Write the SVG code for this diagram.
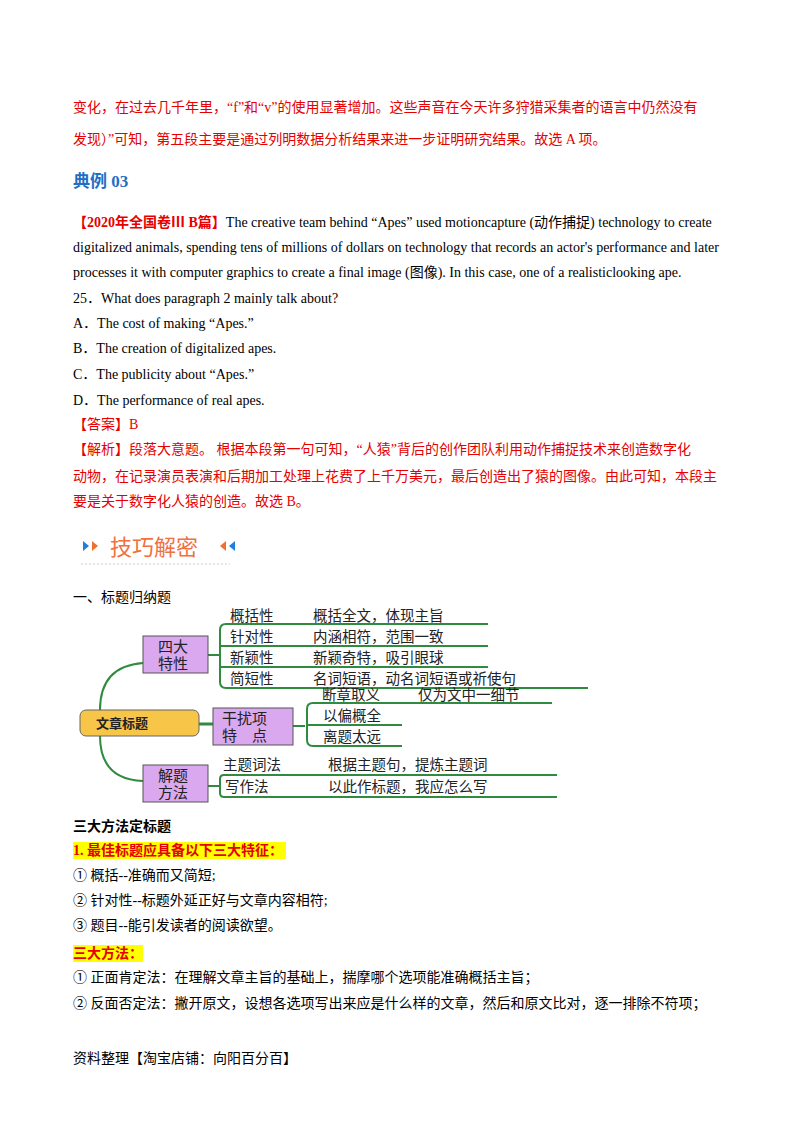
<svg xmlns="http://www.w3.org/2000/svg" width="800" height="1132" viewBox="0 0 800 1132">
<style>
text{font-family:"Liberation Serif","Noto Sans CJK SC",serif;font-size:14px;fill:#000}
.r{fill:#e60000}
.b{font-weight:bold}
.m{font-family:"Noto Sans CJK SC",sans-serif;font-size:14.5px;fill:#222}
.g{stroke:#2e8b40;stroke-width:2;fill:none}
.box{fill:#d9a8ee;stroke:#555;stroke-width:1}
.bx{font-family:"Noto Sans CJK SC",sans-serif;font-size:15px;fill:#222}
</style>
<rect width="800" height="1132" fill="#fff"/>
<text x="73" y="112" class="r">变化，在过去几千年里，“f”和“v”的使用显著增加。这些声音在今天许多狩猎采集者的语言中仍然没有</text>
<text x="73" y="144" class="r">发现）”可知，第五段主要是通过列明数据分析结果来进一步证明研究结果。故选 A 项。</text>
<text x="73" y="187" class="b" style="fill:#1e6fc4;font-size:17px">典例 03</text>
<text x="73" y="227"><tspan class="r b">【2020年全国卷Ⅲ B篇】</tspan>The creative team behind “Apes” used motioncapture (动作捕捉) technology to create</text>
<text x="73" y="252">digitalized animals, spending tens of millions of dollars on technology that records an actor's performance and later</text>
<text x="73" y="277">processes it with computer graphics to create a final image (图像). In this case, one of a realisticlooking ape.</text>
<text x="73" y="303">25．What does paragraph 2 mainly talk about?</text>
<text x="73" y="328">A．The cost of making “Apes.”</text>
<text x="73" y="353">B．The creation of digitalized apes.</text>
<text x="73" y="379">C．The publicity about “Apes.”</text>
<text x="73" y="405">D．The performance of real apes.</text>
<text x="73" y="429" class="r">【答案】B</text>
<text x="73" y="454" class="r">【解析】段落大意题。 根据本段第一句可知，“人猿”背后的创作团队利用动作捕捉技术来创造数字化</text>
<text x="73" y="481" class="r">动物，在记录演员表演和后期加工处理上花费了上千万美元，最后创造出了猿的图像。由此可知，本段主</text>
<text x="73" y="506" class="r">要是关于数字化人猿的创造。故选 B。</text>
<g id="heading">
<polygon points="83,541 89,546 83,551" fill="#1e7fe0"/><polygon points="92,541 98,546 92,551" fill="#f07030"/>
<text x="110" y="555" style="font-family:'Noto Sans CJK SC',sans-serif;font-size:22px;fill:#f07040">技巧解密</text>
<polygon points="226,541 220,546 226,551" fill="#f07030"/><polygon points="235,541 229,546 235,551" fill="#1e7fe0"/>
<line x1="81" y1="564" x2="230" y2="564" stroke="#ccc" stroke-dasharray="2,2"/>
</g>
<text x="73" y="602">一、标题归纳题</text>
<g id="connectors">
<path class="g" d="M100,710 C100,680 115,665 143,663"/>
<path class="g" d="M100,736 C100,765 115,780 143,781"/>
<line class="g" x1="199" y1="724" x2="213" y2="724" style="stroke-width:3"/>
<path class="g" d="M208,655 H220 M488,624 H226 Q220,624 220,630 V682 Q220,688 226,688 H588 M220,646 H488 M220,667 H488"/>
<path class="g" d="M293,726 H305 M552,703 H313 Q307,703 307,709 V740 Q307,746 313,746 H402 M307,725 H402"/>
<path class="g" d="M208,786 H220 M557,775 H224 Q220,775 220,779 V793 Q220,797 224,797 H557"/>
</g>
<g id="n-root"><rect x="80" y="710" width="119" height="26" rx="6" fill="#f7c548" stroke="#666"/><text x="96" y="728" class="m b" style="font-size:13px">文章标题</text></g>
<g id="n-sida"><rect x="143" y="636" width="65" height="37" class="box"/><text x="158" y="652" class="bx">四大</text><text x="158" y="669" class="bx">特性</text></g>
<g id="n-ganrao"><rect x="213" y="708" width="80" height="37" class="box"/><text x="222" y="724" class="bx">干扰项</text><text x="222" y="741" class="bx">特　点</text></g>
<g id="n-jieti"><rect x="143" y="765" width="65" height="37" class="box"/><text x="158" y="781" class="bx">解题</text><text x="158" y="798" class="bx">方法</text></g>
<g id="leaves">
<text x="230" y="621" class="m">概括性</text><text x="313" y="621" class="m">概括全文，体现主旨</text>
<text x="230" y="642" class="m">针对性</text><text x="313" y="642" class="m">内涵相符，范围一致</text>
<text x="230" y="663" class="m">新颖性</text><text x="313" y="663" class="m">新颖奇特，吸引眼球</text>
<text x="230" y="684" class="m">简短性</text><text x="313" y="684" class="m">名词短语，动名词短语或祈使句</text>
<text x="322" y="700" class="m">断章取义</text><text x="418" y="700" class="m">仅为文中一细节</text>
<text x="323" y="721" class="m">以偏概全</text>
<text x="323" y="742" class="m">离题太远</text>
<text x="223" y="770" class="m">主题词法</text><text x="328" y="770" class="m">根据主题句，提炼主题词</text>
<text x="225" y="792" class="m">写作法</text><text x="328" y="792" class="m">以此作标题，我应怎么写</text>
</g>
<text x="73" y="831" class="b">三大方法定标题</text>
<rect x="73" y="842" width="213" height="17" fill="#ffff00"/>
<text x="73" y="855" class="b r">1. 最佳标题应具备以下三大特征：</text>
<text x="73" y="880">① 概括--准确而又简短;</text>
<text x="73" y="905">② 针对性--标题外延正好与文章内容相符;</text>
<text x="73" y="930">③ 题目--能引发读者的阅读欲望。</text>
<rect x="73" y="945" width="70" height="17" fill="#ffff00"/>
<text x="73" y="958" class="b r">三大方法：</text>
<text x="73" y="982">① 正面肯定法：在理解文章主旨的基础上，揣摩哪个选项能准确概括主旨；</text>
<text x="73" y="1008">② 反面否定法：撇开原文，设想各选项写出来应是什么样的文章，然后和原文比对，逐一排除不符项；</text>
<text x="73" y="1063">资料整理【淘宝店铺：向阳百分百】</text>
</svg>
